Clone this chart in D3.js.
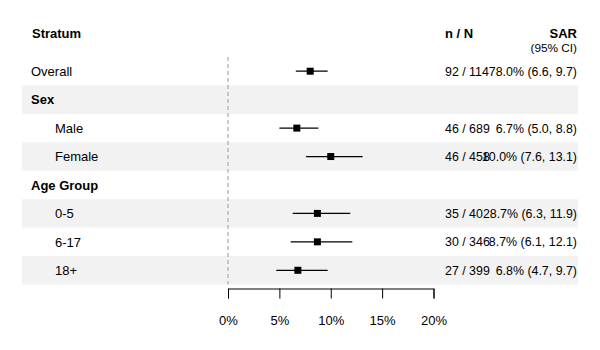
<!DOCTYPE html>
<html>
<head>
<meta charset="utf-8">
<script src="https://cdn.jsdelivr.net/npm/d3@7"></script>
<style>
  html, body { margin: 0; padding: 0; background: #fff; }
  svg text { font-family: "Liberation Sans", Arial, Helvetica, sans-serif; }
</style>
</head>
<body>
<svg id="chart" width="600" height="350"></svg>
<script>
// Forest plot of secondary attack rate (SAR) by stratum
const labels   = ["Overall", "Sex", "Male", "Female", "Age Group", "0-5", "6-17", "18+"];
const isHeader = [false, true, false, false, true, false, false, false];
const indented = [false, false, true, true, false, true, true, true];
const sar      = [8.0, null, 6.7, 10.0, null, 8.7, 8.7, 6.8];
const ciLow    = [6.6, null, 5.0, 7.6, null, 6.3, 6.1, 4.7];
const ciHigh   = [9.7, null, 8.8, 13.1, null, 11.9, 12.1, 9.7];
const nCases   = ["92", null, "46", "46", null, "35", "30", "27"];
const nTotal   = ["1147", null, "689", "458", null, "402", "346", "399"];
const xTicks   = [0, 5, 10, 15, 20];

const svg = d3.select("#chart");

const left = 22, right = 578, textRight = 577;
const x = d3.scaleLinear().domain([0, 20]).range([228, 433.5]);
const y = d3.scaleBand().domain(d3.range(labels.length)).range([57, 284.5]).padding(0);

const rows = labels.map((l, i) => ({
  label: l, header: isHeader[i], indent: indented[i],
  est: sar[i], lo: ciLow[i], hi: ciHigh[i], n: nCases[i], N: nTotal[i], i
}));

// alternating row stripes
svg.append("g").selectAll("rect")
  .data(rows.filter(d => d.i % 2 === 1))
  .join("rect")
  .attr("x", left).attr("width", right - left)
  .attr("y", d => y(d.i)).attr("height", y.bandwidth())
  .attr("fill", "#f2f2f2");

// reference line at zero
svg.append("line")
  .attr("x1", x(0)).attr("x2", x(0))
  .attr("y1", y.range()[0]).attr("y2", y.range()[1])
  .attr("stroke", "#aaaaaa").attr("stroke-width", 1.2)
  .attr("stroke-dasharray", "4,3");

// column headers
svg.append("text").attr("x", 32).attr("y", 38)
  .attr("font-size", 13).attr("font-weight", "bold").text("Stratum");
svg.append("text").attr("x", 445).attr("y", 38)
  .attr("font-size", 13).attr("font-weight", "bold").text("n / N");
svg.append("text").attr("x", textRight).attr("y", 38).attr("text-anchor", "end")
  .attr("font-size", 13).attr("font-weight", "bold").text("SAR");
svg.append("text").attr("x", textRight).attr("y", 52).attr("text-anchor", "end")
  .attr("font-size", 11.8).text("(95% CI)");

// row labels
svg.append("g").selectAll("text")
  .data(rows).join("text")
  .attr("x", d => d.indent ? 55 : 31)
  .attr("y", d => y(d.i) + y.bandwidth() / 2)
  .attr("dy", "0.36em")
  .attr("font-size", 13)
  .attr("font-weight", d => d.header ? "bold" : "normal")
  .text(d => d.label);

const est = rows.filter(d => d.est != null);

// confidence intervals
svg.append("g").selectAll("line")
  .data(est).join("line")
  .attr("x1", d => x(d.lo)).attr("x2", d => x(d.hi))
  .attr("y1", d => y(d.i) + y.bandwidth() / 2)
  .attr("y2", d => y(d.i) + y.bandwidth() / 2)
  .attr("stroke", "#000").attr("stroke-width", 1.3);

// point estimates
const sq = 7;
svg.append("g").selectAll("rect")
  .data(est).join("rect")
  .attr("x", d => x(d.est) - sq / 2)
  .attr("y", d => y(d.i) + y.bandwidth() / 2 - sq / 2)
  .attr("width", sq).attr("height", sq)
  .attr("fill", "#000");

// n / N column
svg.append("g").selectAll("text")
  .data(est).join("text")
  .attr("x", 445)
  .attr("y", d => y(d.i) + y.bandwidth() / 2)
  .attr("dy", "0.36em")
  .attr("font-size", 12.4)
  .text(d => `${d.n} / ${d.N}`);

// SAR (95% CI) column
svg.append("g").selectAll("text")
  .data(est).join("text")
  .attr("x", textRight).attr("text-anchor", "end")
  .attr("y", d => y(d.i) + y.bandwidth() / 2)
  .attr("dy", "0.36em")
  .attr("font-size", 12.4)
  .text(d => `${d.est.toFixed(1)}% (${d.lo.toFixed(1)}, ${d.hi.toFixed(1)})`);

// x axis
const axis = svg.append("g")
  .attr("transform", `translate(0,288.5)`)
  .call(d3.axisBottom(x).tickValues(xTicks).tickFormat(d => d + "%").tickSize(10).tickPadding(17));
axis.select(".domain").attr("stroke", "#000");
axis.selectAll(".tick line").attr("stroke", "#000");
axis.selectAll(".tick text").attr("font-size", 13).attr("fill", "#000")
  .attr("font-family", "'Liberation Sans', Arial, Helvetica, sans-serif");
</script>
</body>
</html>
